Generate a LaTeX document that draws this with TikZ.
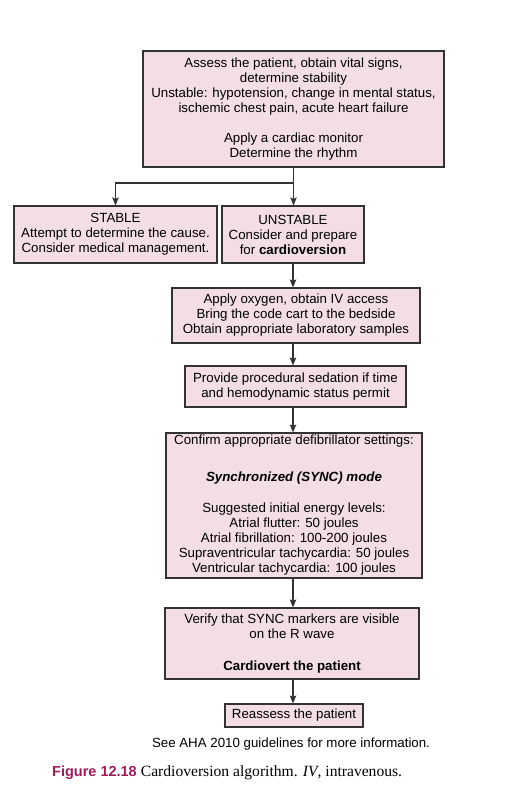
\documentclass[tikz,border=0pt]{standalone}
\usepackage{fontspec}
\setmainfont{Liberation Sans}
\newfontfamily\capserif{Liberation Serif}
\usetikzlibrary{arrows.meta,positioning}
\definecolor{boxpink}{HTML}{F2DEE4}
\definecolor{boxline}{HTML}{333333}
\definecolor{figred}{HTML}{A3195B}

\begin{document}
\begin{tikzpicture}[
  x=1pt, y=-1pt,
  box/.style={draw=boxline, fill=boxpink, line width=1.1pt, align=center, inner sep=0pt, font=\fontsize{13.3}{15}\selectfont},
  arr/.style={-{Stealth[length=8pt, width=6.5pt, inset=1.5pt]}, boxline, line width=1.1pt}
]
\useasboundingbox (0,0) rectangle (525,802);

\node[box, minimum width=301pt, minimum height=116pt] (assess) at (293.5,109)
  {Assess the patient, obtain vital signs,\\ determine stability\\
   Unstable: hypotension, change in mental status,\\ ischemic chest pain, acute heart failure\\[15pt]
   Apply a cardiac monitor\\ Determine the rhythm};
\node[box, minimum width=203pt, minimum height=57pt] (stable) at (115.5,234.5)
  {STABLE\\ Attempt to determine the cause.\\ Consider medical management.};
\node[box, minimum width=142pt, minimum height=57pt] (unstable) at (293,234.5)
  {UNSTABLE\\ Consider and prepare\\ for \textbf{cardioversion}};
\node[box, minimum width=248pt, minimum height=55pt] (oxygen) at (296,315.5)
  {Apply oxygen, obtain IV access\\ Bring the code cart to the bedside\\ Obtain appropriate laboratory samples};
\node[box, minimum width=221pt, minimum height=41pt] (sedation) at (295.5,386.5)
  {Provide procedural sedation if time\\ and hemodynamic status permit};
\node[box, minimum width=256pt, minimum height=145pt] (settings) at (294,505.5)
  {Confirm appropriate defibrillator settings:\\[22pt]
   \textbf{\textit{Synchronized (SYNC) mode}}\\[16pt]
   Suggested initial energy levels:\\ Atrial flutter: 50 joules\\ Atrial fibrillation: 100-200 joules\\
   Supraventricular tachycardia: 50 joules\\ Ventricular tachycardia: 100 joules};
\node[box, minimum width=254pt, minimum height=71pt] (verify) at (292,643.5)
  {Verify that SYNC markers are visible\\ on the R wave\\[17pt] \textbf{Cardiovert the patient}};
\node[box, minimum width=138pt, minimum height=23pt] (reassess) at (294,715.5)
  {Reassess the patient};

\node[font=\fontsize{13.3}{15}\selectfont] (note) at (291,744) {See AHA 2010 guidelines for more information.};
\node[anchor=base west, inner sep=0pt, font=\fontsize{14.5}{16}\selectfont] (caption) at (52,776)
  {\textcolor{figred}{\textbf{Figure 12.18}} {\capserif\fontsize{15.6}{17}\selectfont Cardioversion algorithm. \textit{IV}, intravenous.}};

\coordinate (split) at (293.5,183);
\draw[arr] (assess.south) -- (assess.south |- unstable.north);
\draw[arr] (split) -| (stable.north);
\draw[arr] (unstable.south) -- (unstable.south |- oxygen.north);
\draw[arr] (oxygen.south -| unstable.south) -- (unstable.south |- sedation.north);
\draw[arr] (sedation.south -| unstable.south) -- (unstable.south |- settings.north);
\draw[arr] (settings.south -| unstable.south) -- (unstable.south |- verify.north);
\draw[arr] (verify.south -| unstable.south) -- (unstable.south |- reassess.north);
\end{tikzpicture}
\end{document}
